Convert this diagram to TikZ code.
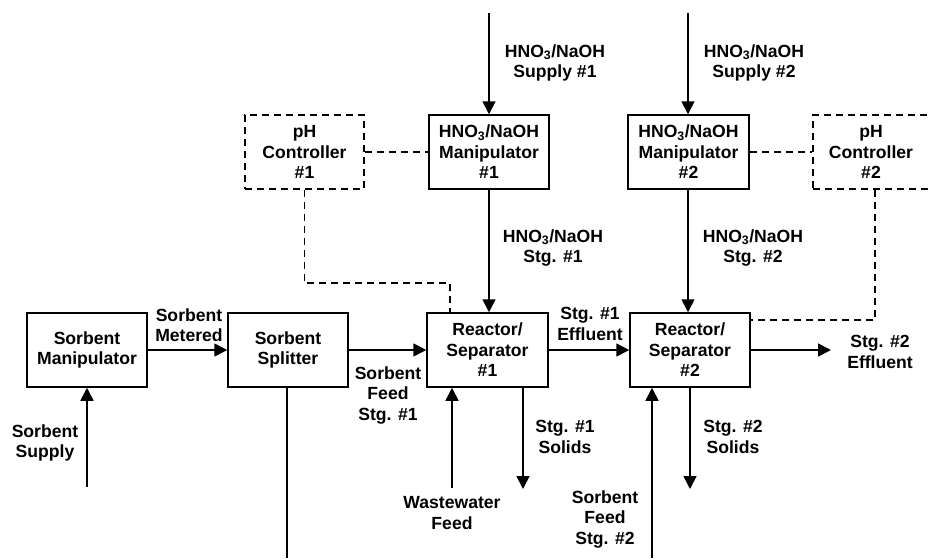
\documentclass[tikz,border=0pt]{standalone}
\usepackage{fontspec}
\setmainfont{Liberation Sans}
\usetikzlibrary{arrows.meta}
\begin{document}
\begin{tikzpicture}[x=1pt,y=-1pt,
  every node/.style={font=\fontsize{17.6}{20.5}\selectfont\bfseries, align=center, inner sep=0pt},
  blk/.style={draw, line width=1.5pt, minimum width=120pt, minimum height=74pt},
  ctrl/.style={blk, dash pattern=on 7pt off 5pt},
  flow/.style={line width=1.6pt, -{Triangle[length=13pt,width=13pt]}},
  plain/.style={line width=1.6pt},
  sig/.style={line width=1.5pt, dash pattern=on 7pt off 5pt}]
\useasboundingbox (0,0) rectangle (931,558);
% boxes
\node[blk] (sm) at (87,350) {Sorbent\\Manipulator};
\node[blk] (ss) at (288,350) {Sorbent\\Splitter};
\node[blk, minimum width=121pt] (r1) at (487.5,350) {Reactor/\\Separator\\\#1};
\node[blk] (r2) at (690,350) {Reactor/\\Separator\\\#2};
\node[blk] (m1) at (489,152) {HNO\textsubscript{3}/NaOH\\Manipulator\\\#1};
\node[blk, minimum width=121pt] (m2) at (688.5,152) {HNO\textsubscript{3}/NaOH\\Manipulator\\\#2};
\node[ctrl, minimum width=119pt] (p1) at (304.5,152) {pH\\Controller\\\#1};
\node[ctrl, minimum width=122pt] (p2) at (874,152) {\hspace*{-6pt}pH\\\hspace*{-6pt}Controller\\\hspace*{-6pt}\#2};
% free ends
\coordinate (ssupS) at (87,487);
\coordinate (ssB) at (287,558);
\coordinate (sf2S) at (652,558);
\coordinate (wwS) at (452,488);
\coordinate (sol1) at (523,489);
\coordinate (sol2) at (690,489);
\coordinate (eff2) at (831,350);
\coordinate (sup1) at (489,13);
\coordinate (sup2) at (688,13);
\coordinate (c1) at (450,283);
\coordinate (c2) at (875,320);
% flows
\draw[flow] (ssupS) -- (sm.south);
\draw[flow] (sm) -- (ss);
\draw[flow] (ss) -- (r1);
\draw[plain] (ss.south -| ssB) -- (ssB);
\draw[flow] (sf2S) -- (sf2S |- r2.south);
\draw[flow] (wwS) -- (wwS |- r1.south);
\draw[flow] (sol1 |- r1.south) -- (sol1);
\draw[flow] (r1) -- (r2);
\draw[flow] (r2.east) -- (eff2);
\draw[flow] (r2.south) -- (sol2);
\draw[flow] (sup1) -- (sup1 |- m1.north);
\draw[flow] (m1.south) -- (m1.south |- r1.north);
\draw[flow] (sup2) -- (sup2 |- m2.north);
\draw[flow] (sup2 |- m2.south) -- (sup2 |- r2.north);
% signals
\draw[sig] (p1.east) -- (m1.west);
\draw[sig] (p1.south) |- (c1) -- (c1 |- r1.north);
\draw[sig] (m2.east) -- (p2.west);
\draw[sig] (c2 |- p2.south) -- (c2) -- (c2 -| r2.east);
% labels
\node (lsup) at (45,443) {Sorbent\\Supply};
\node (lmet) at (189,325) {Sorbent\\Metered};
\node (lsf1) at (388,395) {Sorbent\\Feed\\Stg. \#1};
\node (lww) at (452,513) {Wastewater\\Feed};
\node (ls1) at (565,437) {Stg. \#1\\Solids};
\node (le1) at (590,324) {Stg. \#1\\Effluent};
\node (lsf2) at (605,519) {Sorbent\\Feed\\Stg. \#2};
\node (ls2) at (733,437) {Stg. \#2\\Solids};
\node (le2) at (880,352) {Stg. \#2\\Effluent};
\node (lhs1) at (555,63) {HNO\textsubscript{3}/NaOH\\Supply \#1};
\node (lhg1) at (553,248) {HNO\textsubscript{3}/NaOH\\Stg. \#1};
\node (lhs2) at (754,63) {HNO\textsubscript{3}/NaOH\\Supply \#2};
\node (lhg2) at (753,248) {HNO\textsubscript{3}/NaOH\\Stg. \#2};
\end{tikzpicture}
\end{document}
